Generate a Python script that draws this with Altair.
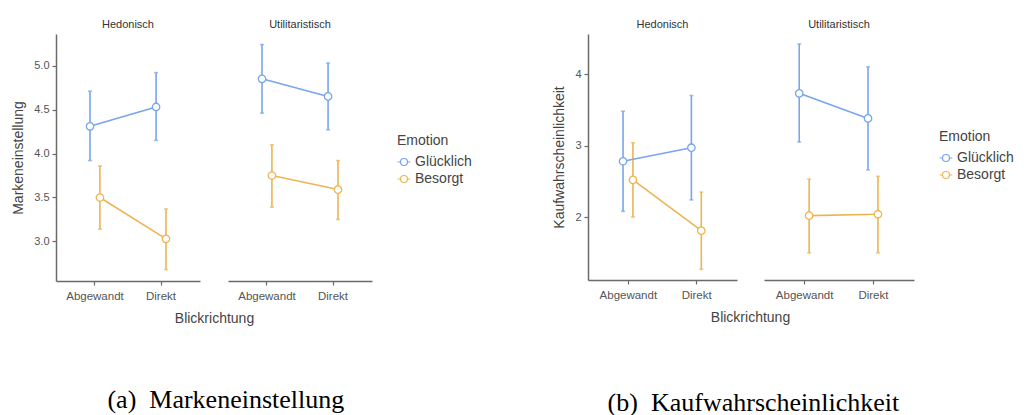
import altair as alt
import pandas as pd

# Categories
blick = ["Abgewandt", "Direkt"]
emotion = ["Glücklich", "Besorgt"]
produkt = ["Hedonisch", "Utilitaristisch"]

# Markeneinstellung: means and interval bounds (Abgewandt, Direkt)
me_hed_gl_mean = [4.31, 4.53]
me_hed_gl_lo = [3.92, 4.15]
me_hed_gl_hi = [4.71, 4.92]
me_hed_be_mean = [3.50, 3.03]
me_hed_be_lo = [3.14, 2.68]
me_hed_be_hi = [3.86, 3.37]
me_uti_gl_mean = [4.85, 4.65]
me_uti_gl_lo = [4.46, 4.27]
me_uti_gl_hi = [5.24, 5.03]
me_uti_be_mean = [3.75, 3.59]
me_uti_be_lo = [3.39, 3.25]
me_uti_be_hi = [4.10, 3.92]

# Kaufwahrscheinlichkeit: means and interval bounds (Abgewandt, Direkt)
kw_hed_gl_mean = [2.78, 2.97]
kw_hed_gl_lo = [2.08, 2.24]
kw_hed_gl_hi = [3.48, 3.70]
kw_hed_be_mean = [2.52, 1.81]
kw_hed_be_lo = [2.00, 1.27]
kw_hed_be_hi = [3.04, 2.35]
kw_uti_gl_mean = [3.73, 3.38]
kw_uti_gl_lo = [3.05, 2.66]
kw_uti_gl_hi = [4.42, 4.10]
kw_uti_be_mean = [2.02, 2.04]
kw_uti_be_lo = [1.50, 1.50]
kw_uti_be_hi = [2.53, 2.57]

# Axis ticks
me_ticks = [3.0, 3.5, 4.0, 4.5, 5.0]
kw_ticks = [2, 3, 4]

BLUE = "#77A5EE"
ORANGE = "#ECB552"
FONT = "Liberation Sans"

# legend key: short line stubs on both sides of an open circle
LEGEND_SYMBOL = ("M-1,0H-0.55M0.55,0H1"
                 "M-0.55,0A0.55,0.55,0,1,1,0.55,0A0.55,0.55,0,1,1,-0.55,0Z")


def table(series):
    rows = []
    for typ, emo, mean, lo, hi in series:
        for b, m, l, h in zip(blick, mean, lo, hi):
            rows.append({"typ": typ, "emotion": emo, "blick": b,
                         "mean": m, "lo": l, "hi": h})
    return pd.DataFrame(rows)


df_me = table([
    ("Hedonisch", "Glücklich", me_hed_gl_mean, me_hed_gl_lo, me_hed_gl_hi),
    ("Hedonisch", "Besorgt", me_hed_be_mean, me_hed_be_lo, me_hed_be_hi),
    ("Utilitaristisch", "Glücklich", me_uti_gl_mean, me_uti_gl_lo, me_uti_gl_hi),
    ("Utilitaristisch", "Besorgt", me_uti_be_mean, me_uti_be_lo, me_uti_be_hi),
])
df_kw = table([
    ("Hedonisch", "Glücklich", kw_hed_gl_mean, kw_hed_gl_lo, kw_hed_gl_hi),
    ("Hedonisch", "Besorgt", kw_hed_be_mean, kw_hed_be_lo, kw_hed_be_hi),
    ("Utilitaristisch", "Glücklich", kw_uti_gl_mean, kw_uti_gl_lo, kw_uti_gl_hi),
    ("Utilitaristisch", "Besorgt", kw_uti_be_mean, kw_uti_be_lo, kw_uti_be_hi),
])


def facet(df, typ, domain, ticks, fmt, ytitle, width, height, first,
          title_x, legend_xy):
    data = df[df["typ"] == typ]
    base = alt.Chart(data)

    if first:
        xaxis = alt.Axis(title="Blickrichtung", titleX=title_x, titleY=30,
                         titleAnchor="start", titleAlign="center",
                         titleBaseline="top", labelAngle=0)
        yaxis = alt.Axis(title=ytitle, values=ticks, format=fmt)
    else:
        xaxis = alt.Axis(title=None, labelAngle=0)
        yaxis = None

    x = alt.X("blick:N", sort=blick, axis=xaxis,
              scale=alt.Scale(paddingInner=0.7, paddingOuter=0.44))
    xo = alt.XOffset("emotion:N", sort=emotion,
                     scale=alt.Scale(paddingInner=0, paddingOuter=0))
    yscale = alt.Scale(domain=domain, nice=False, zero=False)
    cscale = alt.Scale(domain=emotion, range=[BLUE, ORANGE])

    if legend_xy is None:
        leg = None
    else:
        leg = alt.Legend(title="Emotion", orient="none",
                         legendX=legend_xy[0], legendY=legend_xy[1],
                         symbolType=LEGEND_SYMBOL, symbolSize=160,
                         symbolStrokeWidth=1.2, symbolFillColor="white")
    # the legend is driven by the open points only; bars, caps and lines
    # use stroke/fill channels with the same palette and no legend
    color = alt.Color("emotion:N", sort=emotion, legend=leg, scale=cscale)
    stroke = alt.Stroke("emotion:N", sort=emotion, legend=None, scale=cscale)
    fill = alt.Fill("emotion:N", sort=emotion, legend=None, scale=cscale)

    bars = base.mark_rule(strokeWidth=1.6).encode(
        x=x, xOffset=xo,
        y=alt.Y("lo:Q", scale=yscale, axis=yaxis), y2="hi:Q",
        stroke=stroke)
    cap_lo = base.mark_tick(size=4, thickness=1.6).encode(
        x=x, xOffset=xo, y=alt.Y("lo:Q", scale=yscale, axis=yaxis),
        fill=fill)
    cap_hi = base.mark_tick(size=4, thickness=1.6).encode(
        x=x, xOffset=xo, y=alt.Y("hi:Q", scale=yscale, axis=yaxis),
        fill=fill)
    line = base.mark_line(strokeWidth=1.6).encode(
        x=x, xOffset=xo, y=alt.Y("mean:Q", scale=yscale, axis=yaxis),
        stroke=stroke)
    pts = base.mark_point(filled=False, fill="white", size=55,
                          strokeWidth=1.3, opacity=1).encode(
        x=x, xOffset=xo, y=alt.Y("mean:Q", scale=yscale, axis=yaxis),
        color=color)

    return alt.layer(bars, cap_lo, cap_hi, line, pts).properties(
        width=width, height=height,
        title=alt.TitleParams(typ, fontSize=11, fontWeight="normal",
                              color="#333", font=FONT, offset=4,
                              anchor="middle"))


def panel(df, domain, ticks, fmt, ytitle, width, height, spacing,
          title_x, legend_xy, caption, caption_offset, caption_dx):
    hed = facet(df, "Hedonisch", domain, ticks, fmt, ytitle, width[0],
                height, True, title_x, None)
    uti = facet(df, "Utilitaristisch", domain, ticks, fmt, ytitle, width[1],
                height, False, title_x, legend_xy)
    return alt.hconcat(hed, uti, spacing=spacing, bounds="flush").resolve_scale(
        x="independent", y="independent", color="shared",
        stroke="shared", fill="shared"
    ).resolve_legend(color="independent").properties(
        title=alt.TitleParams(caption, orient="bottom", font="Liberation Serif",
                              fontSize=26, fontWeight="normal", color="black",
                              offset=caption_offset, dx=caption_dx,
                              anchor="middle"))


panel_a = panel(df_me, [2.55, 5.36], me_ticks, ".1f", "Markeneinstellung",
                (144, 144), 247, 28, 158, (169, 100),
                "(a)\u00a0\u00a0Markeneinstellung", 62, -16)
panel_b = panel(df_kw, [1.12, 4.56], kw_ticks, "d", "Kaufwahrscheinlichkeit",
                (149, 150), 246, 27, 162, (175, 96),
                "(b)\u00a0\u00a0Kaufwahrscheinlichkeit", 66, -30)

chart = alt.hconcat(panel_a, panel_b, spacing=80).resolve_scale(
    color="shared"
).resolve_legend(color="independent").properties(
    padding={"left": 11, "top": 19, "right": 0, "bottom": 0}
).configure_view(stroke=None).configure_axis(
    grid=False,
    labelFont=FONT, labelFontSize=11, labelColor="#555",
    titleFont=FONT, titleFontSize=14, titleFontWeight="normal",
    titleColor="#444", titlePadding=8,
    domainColor="#6a6a6a", domainWidth=1.5,
    tickColor="#6a6a6a", tickSize=4, tickWidth=1.2, labelPadding=3,
).configure_axisX(labelFontSize=11.5, labelPadding=5).configure_legend(
    titleFont=FONT, titleFontSize=14, titleFontWeight="normal",
    titleColor="#444", labelFont=FONT, labelFontSize=14, labelColor="#444",
    rowPadding=3, titlePadding=7,
).configure_title(font=FONT)

chart.save("out.html", embed_options={"renderer": "svg", "actions": False})
